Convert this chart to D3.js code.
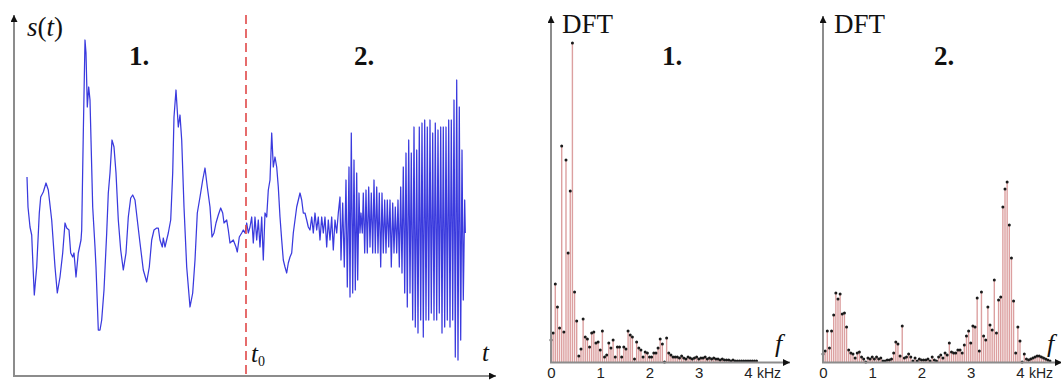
<!DOCTYPE html>
<html>
<head>
<meta charset="utf-8">
<script src="https://cdn.jsdelivr.net/npm/d3@7"></script>
<style>
body { margin: 0; background: #fff; }
svg { display: block; }
.serif { font-family: "Liberation Serif", "Times New Roman", serif; fill: #111; }
.tick text { font-family: "Liberation Sans", Arial, sans-serif; font-size: 15px; fill: #222; }
</style>
</head>
<body>
<div id="chart"></div>
<script>
// speech signal s(t) (time in samples, amplitude in arbitrary units)
var sigT = [0,1,3,4.7,6.3,7.3,9.7,12.3,13.7,16.3,19,21.3,24.7,28,30.3,33,35.7,38,39.7,42,43.7,45.7,47,49,51.3,54,54.7,56.3,58,59,
  60.3,61.7,63,65.7,68,69,71.3,73,74.7,77,79.7,81.3,83,85,87,89,91.3,93.7,96.3,99,101.3,103.7,105.7,108,110.3,113,116.3,119.7,122.3,124.7,
  127,129.7,131.3,133,135.3,136.3,138,141.3,143.7,145.7,147,149,151.3,153,154.7,157,159.7,163,165.7,168,170.3,173,175.7,178,180.3,183,185,187,189,191.3,
  193.7,195.7,197,199.7,201.3,203,206.3,209,210.3,212.3,214.7,216.3,218,219.7,221.3,223,224.7,226.3,228,229.7,231.3,233,234.7,236.3,238,239.7,241.3,243,244.7,246.3,
  248,249.7,251.3,253,254.7,256.3,258,259.7,261.3,263,264.7,266.3,269.7,273,274.7,276.3,278,279.7,281.3,283,284.7,286.3,288,289.7,291.3,293,294.7,296.3,298,299.7,
  301.3,303,304.7,306.3,308,309.7,311.3,313,314,315.7,317.3,319,320.3,322,323,324.3,325.7,327,328.3,329.7,330.7,332,333,334,335.3,336.3,337.7,339,340.3,341.7,
  343,344.3,345.7,347,348.3,349.7,351,352.3,353.7,355,356.3,357.7,359,360.3,361.7,363,364.3,365.7,367,368.3,369.7,371,372.3,373.7,375,376.3,377.7,379,380.3,381.7,
  383,384.3,385.7,387,388.3,389.7,391,392.3,393.7,395,396.3,397.7,399,400.3,401.7,403,404.3,405.7,407,408.3,409.7,411,412.3,413.7,415,416.3,417.7,419,420.3,421.7,
  423,424.3,425.7,427,428.3,429.7,431,432.3,433.7,435,436.3,437.7,438.3];
var sigV = [63,33,13,5,-33,-55,-27,27,43,48,57,50,20,-27,-53,-37,-13,17,12,10,-13,-17,-13,-37,-13,0,10,107,200,187,
  133,153,140,33,-7,-27,-90,-90,-80,-50,7,47,67,100,93,67,20,-10,-30,-13,23,42,45,40,20,-3,-30,-42,-27,0,
  10,12,12,0,-7,2,-7,7,20,67,123,150,113,125,100,33,-27,-67,-53,-20,27,43,60,72,53,33,3,7,17,25,
  32,27,17,20,10,-3,0,-7,-12,3,7,10,7,17,7,13,23,-3,23,0,20,-7,23,-20,27,23,50,60,107,73,
  83,73,53,23,0,-20,-27,-33,-23,-17,-13,7,33,47,40,27,27,20,13,10,23,7,27,10,23,0,23,7,23,-7,
  20,0,23,-10,20,7,27,43,-20,37,-27,60,-47,73,-57,107,-53,80,-50,67,-40,47,7,27,7,47,-13,50,-13,53,
  -7,47,-13,60,-13,53,-13,47,-27,47,-13,40,-13,40,-7,40,-27,37,-13,33,-13,40,-27,53,-33,73,-53,87,-67,100,
  -53,87,-80,113,-87,90,-93,113,-80,117,-97,120,-80,113,-80,120,-73,107,-80,117,-80,110,-73,113,-93,113,-87,113,-80,120,
  -87,120,-80,140,-117,160,-120,133,-100,90,-60,40,7];
var t0 = 219;

// DFT magnitudes (arbitrary units), 23 bins per kHz
var binsPerKHz = 23;
var dft1 = [22,29,78,55,34,216,30,202,109,171,319,70,41,6,13,43,25,23,15,29,
  30,19,20,12,31,5,7,19,14,22,5,15,15,5,15,13,31,27,25,3,
  20,14,12,5,10,9,5,5,9,9,14,23,18,0,24,9,7,5,5,5,
  4,6,4,3,5,4,3,4,5,3,4,4,5,3,4,3,4,3,3,2,
  3,2,2,2,1,2,1,1,1,1,1,1,1,1,1,1,1];
var dft2 = [8,11,31,14,31,47,69,63,68,48,49,35,12,9,8,4,9,10,5,3,
  0,4,3,5,3,5,3,4,1,1,2,2,3,9,20,18,6,36,4,5,
  8,5,1,4,1,3,2,2,2,3,1,5,2,1,5,7,4,9,7,19,
  10,9,9,12,12,9,17,26,31,19,36,35,64,11,70,26,22,55,37,32,
  82,29,62,65,155,173,180,137,104,61,9,35,21,0,8,3,2,3,4,5,
  6,6,5,4,3,2,1];
var kHzTicks = [0, 1, 2, 3, 4];

var svgWidth = 1061, svgHeight = 381;
var svg = d3.select("#chart").append("svg").attr("width", svgWidth).attr("height", svgHeight);

svg.append("defs").append("marker")
  .attr("id", "arr").attr("viewBox", "0 0 10 10").attr("refX", 10).attr("refY", 5)
  .attr("markerUnits", "userSpaceOnUse").attr("markerWidth", 9).attr("markerHeight", 7)
  .attr("orient", "auto")
  .append("path").attr("d", "M0,0L10,5L0,10z").attr("fill", "#111");

function axisLine(x1, y1, x2, y2) {
  svg.append("line").attr("x1", x1).attr("y1", y1).attr("x2", x2).attr("y2", y2)
    .attr("stroke", "#8c8c8c").attr("stroke-width", 2).attr("marker-end", "url(#arr)");
}

// ---- left panel: signal ----
var tScale = d3.scaleLinear().domain([0, 440]).range([27, 467]);
var vScale = d3.scaleLinear().domain([-130, 220]).range([370, 20]);

axisLine(14, 376, 14, 15);
axisLine(13, 376, 496, 376);

var sig = d3.range(sigT.length).map(function(i) { return [sigT[i], sigV[i]]; });
svg.append("path").datum(sig)
  .attr("fill", "none").attr("stroke", "#3a3ade").attr("stroke-width", 1.25)
  .attr("stroke-linejoin", "round")
  .attr("d", d3.line().x(function(d) { return tScale(d[0]); }).y(function(d) { return vScale(d[1]); }));

svg.append("line").attr("x1", tScale(t0)).attr("x2", tScale(t0)).attr("y1", 15).attr("y2", 376)
  .attr("stroke", "#e04848").attr("stroke-width", 1.6).attr("stroke-dasharray", "9,5");

var st = svg.append("text").attr("class", "serif").attr("x", 27).attr("y", 36).attr("font-size", 27);
st.append("tspan").attr("font-style", "italic").text("s");
st.append("tspan").text("(");
st.append("tspan").attr("font-style", "italic").text("t");
st.append("tspan").text(")");

svg.append("text").attr("class", "serif").attr("x", 129).attr("y", 65).attr("font-size", 27)
  .attr("font-weight", "bold").text("1.");
svg.append("text").attr("class", "serif").attr("x", 354).attr("y", 65).attr("font-size", 27)
  .attr("font-weight", "bold").text("2.");
svg.append("text").attr("class", "serif").attr("x", 482).attr("y", 361).attr("font-size", 25)
  .attr("font-style", "italic").text("t");
var tz = svg.append("text").attr("class", "serif").attr("x", 251).attr("y", 362).attr("font-size", 25);
tz.append("tspan").attr("font-style", "italic").text("t");
tz.append("tspan").attr("font-size", 14).attr("dy", 4).text("0");

// ---- DFT panels ----
var aScale = d3.scaleLinear().domain([0, 340]).range([362, 22]);

function dftPanel(values, x0, label) {
  var fScale = d3.scaleLinear().domain([0, 4]).range([x0, x0 + 197]);
  var g = svg.append("g");

  g.selectAll("line.stem").data(values).enter().append("line")
    .attr("class", "stem")
    .attr("x1", function(d, i) { return fScale(i / binsPerKHz); })
    .attr("x2", function(d, i) { return fScale(i / binsPerKHz); })
    .attr("y1", aScale(0)).attr("y2", function(d) { return aScale(d); })
    .attr("stroke", "#dca0a0").attr("stroke-width", 1.4);

  axisLine(x0, 363, x0, 16);
  axisLine(x0 - 1, 362.5, x0 + 239, 362.5);

  g.selectAll("circle").data(values).enter().append("circle")
    .attr("cx", function(d, i) { return fScale(i / binsPerKHz); })
    .attr("cy", function(d) { return aScale(d); })
    .attr("r", 1.5).attr("fill", "#1a1a1a");

  var ax = svg.append("g").attr("transform", "translate(0,362)")
    .call(d3.axisBottom(fScale).tickValues(kHzTicks).tickSize(0).tickPadding(5).tickFormat(d3.format("d")));
  ax.select(".domain").remove();

  svg.append("text").attr("x", fScale(4) + 9).attr("y", 378)
    .attr("font-family", "Liberation Sans, Arial, sans-serif").attr("font-size", 14).attr("fill", "#222")
    .text("kHz");
  svg.append("text").attr("class", "serif").attr("x", x0 + 11).attr("y", 33).attr("font-size", 27).text("DFT");
  svg.append("text").attr("class", "serif").attr("x", x0 + 111).attr("y", 65).attr("font-size", 27)
    .attr("font-weight", "bold").text(label);
  svg.append("text").attr("class", "serif").attr("x", x0 + 224).attr("y", 352).attr("font-size", 26)
    .attr("font-style", "italic").text("f");
}

dftPanel(dft1, 551, "1.");
dftPanel(dft2, 823, "2.");
</script>
</body>
</html>
